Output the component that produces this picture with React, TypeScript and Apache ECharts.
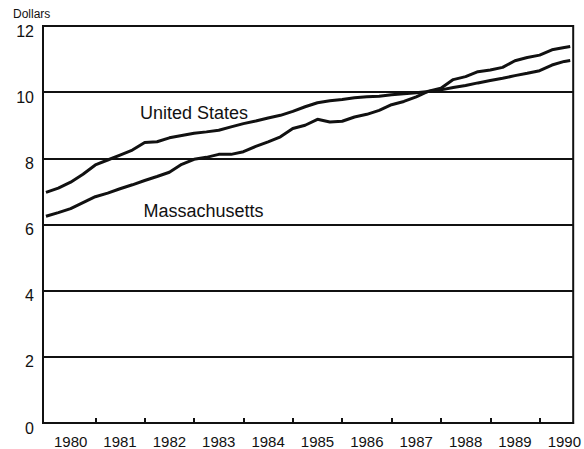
import React, { useEffect, useRef } from "react";
import * as echarts from "echarts";

// Quarterly observation times (year fractions), Jan 1980 – mid 1990
const times = [
  1980.0, 1980.25, 1980.5, 1980.75,
  1981.0, 1981.25, 1981.5, 1981.75,
  1982.0, 1982.25, 1982.5, 1982.75,
  1983.0, 1983.25, 1983.5, 1983.75,
  1984.0, 1984.25, 1984.5, 1984.75,
  1985.0, 1985.25, 1985.5, 1985.75,
  1986.0, 1986.25, 1986.5, 1986.75,
  1987.0, 1987.25, 1987.5, 1987.75,
  1988.0, 1988.25, 1988.5, 1988.75,
  1989.0, 1989.25, 1989.5, 1989.75,
  1990.0, 1990.25, 1990.5, 1990.62,
];

// Average hourly earnings, dollars
const unitedStates = [
  6.97, 7.1, 7.28, 7.52,
  7.8, 7.95, 8.1, 8.25,
  8.48, 8.5, 8.62, 8.69,
  8.76, 8.8, 8.85, 8.95,
  9.05, 9.13, 9.22, 9.3,
  9.42, 9.56, 9.68, 9.74,
  9.78, 9.83, 9.86, 9.88,
  9.92, 9.95, 9.98, 10.02,
  10.07, 10.14, 10.2, 10.28,
  10.35, 10.42, 10.5, 10.57,
  10.65, 10.82, 10.93, 10.96,
];

const massachusetts = [
  6.25, 6.36, 6.48, 6.66,
  6.84, 6.95, 7.08, 7.2,
  7.33, 7.45, 7.58, 7.82,
  7.97, 8.03, 8.12, 8.12,
  8.2, 8.36, 8.5, 8.65,
  8.9, 9.0, 9.18, 9.1,
  9.12, 9.25, 9.33, 9.45,
  9.62, 9.72, 9.86, 10.03,
  10.12, 10.38, 10.47, 10.62,
  10.67, 10.75, 10.95, 11.05,
  11.12, 11.28, 11.35, 11.38,
];

// Year tick marks (year boundaries) and year labels (mid-year)
const yearTicks = [1981, 1982, 1983, 1984, 1985, 1986, 1987, 1988, 1989, 1990];
const yearLabelPositions = [
  1980.5, 1981.5, 1982.5, 1983.5, 1984.5, 1985.5,
  1986.5, 1987.5, 1988.5, 1989.5, 1990.5,
];

const seriesNames = ["United States", "Massachusetts"];
const seriesLabelCoords: [number, number][] = [
  [1983.0, 9.38],
  [1983.19, 6.42],
];

const INK = "#111";
const FONT = "'Liberation Sans', Arial, Helvetica, sans-serif";

export default function App() {
  const ref = useRef<HTMLDivElement>(null);

  useEffect(() => {
    document.body.style.margin = "0";
    if (!ref.current) return;
    const chart = echarts.init(ref.current, undefined, { renderer: "svg" });

    const makeSeries = (name: string, values: number[], coord: [number, number]) => ({
      name,
      type: "line",
      data: times.map((t, i) => [t, values[i]]),
      symbol: "none",
      lineStyle: { color: INK, width: 3 },
      itemStyle: { color: INK },
      z: 5,
      markPoint: {
        silent: true,
        symbol: "circle",
        symbolSize: 1,
        itemStyle: { color: "rgba(0,0,0,0)" },
        label: {
          show: true,
          position: "inside",
          formatter: name,
          color: INK,
          fontSize: 18,
          fontFamily: FONT,
        },
        data: [{ coord }],
      },
    });

    chart.setOption({
      animation: false,
      backgroundColor: "#fff",
      textStyle: { fontFamily: FONT },
      grid: {
        left: 43,
        right: 6,
        top: 26,
        bottom: 25,
        show: true,
        borderColor: INK,
        borderWidth: 2,
      },
      graphic: [
        {
          type: "text",
          left: 13,
          top: 8,
          style: { text: "Dollars", fill: INK, fontSize: 12, fontFamily: FONT },
        },
      ],
      xAxis: {
        type: "value",
        min: 1979.94,
        max: 1990.68,
        axisLine: { show: true, lineStyle: { color: INK, width: 2 } },
        axisTick: {
          show: true,
          inside: true,
          length: 5,
          customValues: yearTicks,
          lineStyle: { color: INK, width: 2 },
        },
        axisLabel: {
          customValues: yearLabelPositions,
          formatter: (v: number) => String(Math.floor(v)),
          color: INK,
          fontSize: 15,
          margin: 11,
          fontFamily: FONT,
        },
        splitLine: { show: false },
      },
      yAxis: {
        type: "value",
        min: 0,
        max: 12,
        interval: 2,
        axisLine: { show: true, lineStyle: { color: INK, width: 2 } },
        axisTick: { show: false },
        axisLabel: {
          color: INK,
          fontSize: 16,
          margin: 9,
          fontFamily: FONT,
          verticalAlign: "top",
          lineHeight: 10,
        },
        splitLine: { show: true, lineStyle: { color: INK, width: 2 } },
      },
      series: [
        makeSeries(seriesNames[0], unitedStates, seriesLabelCoords[0]),
        makeSeries(seriesNames[1], massachusetts, seriesLabelCoords[1]),
      ],
    });

    return () => chart.dispose();
  }, []);

  return <div ref={ref} style={{ width: 584, height: 449 }} />;
}
